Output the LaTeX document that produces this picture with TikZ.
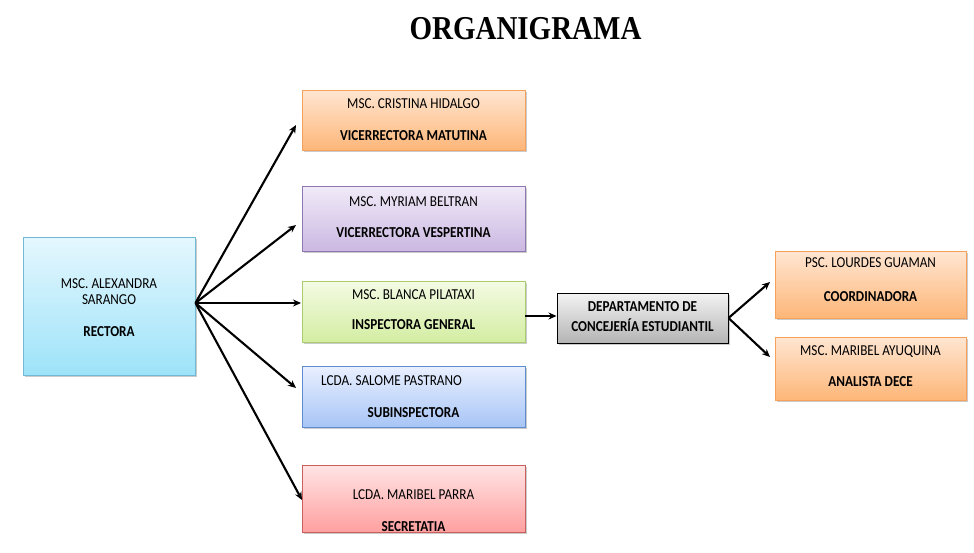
\documentclass[tikz,border=0pt]{standalone}
\usepackage{fontspec}
\setmainfont{Carlito}
\newfontfamily\titlefont{Liberation Serif}
\usetikzlibrary{shadows,arrows.meta}
\definecolor{orB}{HTML}{F5A15C}\definecolor{orT}{HTML}{FFE6D2}\definecolor{orD}{HTML}{FDB678}
\definecolor{puB}{HTML}{8E78B4}\definecolor{puT}{HTML}{F1EBF8}\definecolor{puD}{HTML}{CBB8E2}
\definecolor{grB}{HTML}{A9CC6C}\definecolor{grT}{HTML}{F4FBE4}\definecolor{grD}{HTML}{D3EDA2}
\definecolor{blB}{HTML}{5E8CD0}\definecolor{blT}{HTML}{E9F0FF}\definecolor{blD}{HTML}{A8C5F6}
\definecolor{reB}{HTML}{C9605E}\definecolor{reT}{HTML}{FFE4E4}\definecolor{reD}{HTML}{FFA0A0}
\definecolor{cyB}{HTML}{70BAD6}\definecolor{cyT}{HTML}{E5F7FE}\definecolor{cyD}{HTML}{9DE3F9}
\definecolor{gyT}{HTML}{F3F3F3}\definecolor{gyD}{HTML}{B4B4B4}
\newcommand{\vs}[1]{\scalebox{1}[1.15]{#1}}
\tikzset{
  box/.style={rectangle, line width=0.9pt, inner sep=0pt,
    drop shadow={shadow xshift=1.5pt, shadow yshift=-2pt, fill=black!45, opacity=0.45}},
  orbox/.style={box, draw=orB, top color=orT, bottom color=orD},
  pubox/.style={box, draw=puB, top color=puT, bottom color=puD},
  grbox/.style={box, draw=grB, top color=grT, bottom color=grD},
  blbox/.style={box, draw=blB, top color=blT, bottom color=blD},
  rebox/.style={box, draw=reB, top color=reT, bottom color=reD},
  cybox/.style={box, draw=cyB, top color=cyT, bottom color=cyD},
  gybox/.style={box, draw=black, line width=1pt, top color=gyT, bottom color=gyD},
  txt/.style={anchor=base, inner sep=0pt, font=\fontsize{13.2}{14}\selectfont},
  btxt/.style={txt, font=\fontsize{13.2}{14}\selectfont\bfseries},
  arr/.style={draw=black, line width=2.1pt, -{Stealth[length=8pt,width=7pt]}},
}
\begin{document}
\begin{tikzpicture}[x=1pt,y=-1pt]
\useasboundingbox (0,0) rectangle (974,552);
\node[inner sep=0pt, font=\titlefont\fontsize{29}{30}\selectfont\bfseries] (title) at (525.5,29) {\vs{ORGANIGRAMA}};

% boxes
\node[cybox, minimum width=172pt, minimum height=138pt] (rec) at (109,306) {};
\node[orbox, minimum width=223pt, minimum height=60pt] (cri) at (413.5,120) {};
\node[pubox, minimum width=223pt, minimum height=65pt] (myr) at (413.5,218.5) {};
\node[grbox, minimum width=223pt, minimum height=61pt] (bla) at (413.5,311.5) {};
\node[blbox, minimum width=223pt, minimum height=61pt] (sal) at (413.5,396.5) {};
\node[rebox, minimum width=223pt, minimum height=67pt] (par) at (413.5,498.5) {};
\node[gybox, minimum width=171pt, minimum height=50pt] (dep) at (642.5,318) {};
\node[orbox, minimum width=191pt, minimum height=67pt] (lou) at (870.5,284.5) {};
\node[orbox, minimum width=191pt, minimum height=63pt] (ayu) at (870.5,368.5) {};

% texts
\node[txt]  (rec1) at (109,288) {\vs{MSC. ALEXANDRA}};
\node[txt]  (rec2) at (109,304) {\vs{SARANGO}};
\node[btxt] (rec3) at (109,336) {\vs{RECTORA}};
\node[txt]  (cri1) at (413.5,108) {\vs{MSC. CRISTINA HIDALGO}};
\node[btxt] (cri2) at (413.5,140) {\vs{VICERRECTORA MATUTINA}};
\node[txt]  (myr1) at (413.5,206) {\vs{MSC. MYRIAM BELTRAN}};
\node[btxt] (myr2) at (413.5,237) {\vs{VICERRECTORA VESPERTINA}};
\node[txt]  (bla1) at (413.5,299) {\vs{MSC. BLANCA PILATAXI}};
\node[btxt] (bla2) at (413.5,329) {\vs{INSPECTORA GENERAL}};
\node[txt]  (sal1) at (391.5,385) {\vs{LCDA. SALOME PASTRANO}};
\node[btxt] (sal2) at (413.5,417) {\vs{SUBINSPECTORA}};
\node[txt]  (par1) at (413.5,499) {\vs{LCDA. MARIBEL PARRA}};
\node[btxt] (par2) at (413.5,531) {\vs{SECRETATIA}};
\node[btxt] (dep1) at (642.5,311) {\vs{DEPARTAMENTO DE}};
\node[btxt] (dep2) at (642.5,331) {\vs{CONCEJERÍA ESTUDIANTIL}};
\node[txt]  (lou1) at (870.5,267) {\vs{PSC. LOURDES GUAMAN}};
\node[btxt] (lou2) at (870.5,301) {\vs{COORDINADORA}};
\node[txt]  (ayu1) at (870.5,355) {\vs{MSC. MARIBEL AYUQUINA}};
\node[btxt] (ayu2) at (870.5,386) {\vs{ANALISTA DECE}};

% arrow end points
\coordinate (t1) at (296,125);
\coordinate (t2) at (296,225);
\coordinate (t3) at (301,303);
\coordinate (t4) at (296,388);
\coordinate (t5) at (302,500);
\coordinate (t6) at (770,282);
\coordinate (t7) at (770,357);

\draw[arr] ([yshift=3pt]rec.east) -- (t1);
\draw[arr] ([yshift=3pt]rec.east) -- (t2);
\draw[arr] ([yshift=3pt]rec.east) -- (t3);
\draw[arr] ([yshift=3pt]rec.east) -- (t4);
\draw[arr] ([yshift=3pt]rec.east) -- (t5);
\draw[arr, line width=2.6pt] ([yshift=2pt]bla.east |- dep.west) -- ([yshift=2pt]dep.west);
\draw[arr] (dep.east) -- (t6);
\draw[arr] (dep.east) -- (t7);
\end{tikzpicture}
\end{document}
